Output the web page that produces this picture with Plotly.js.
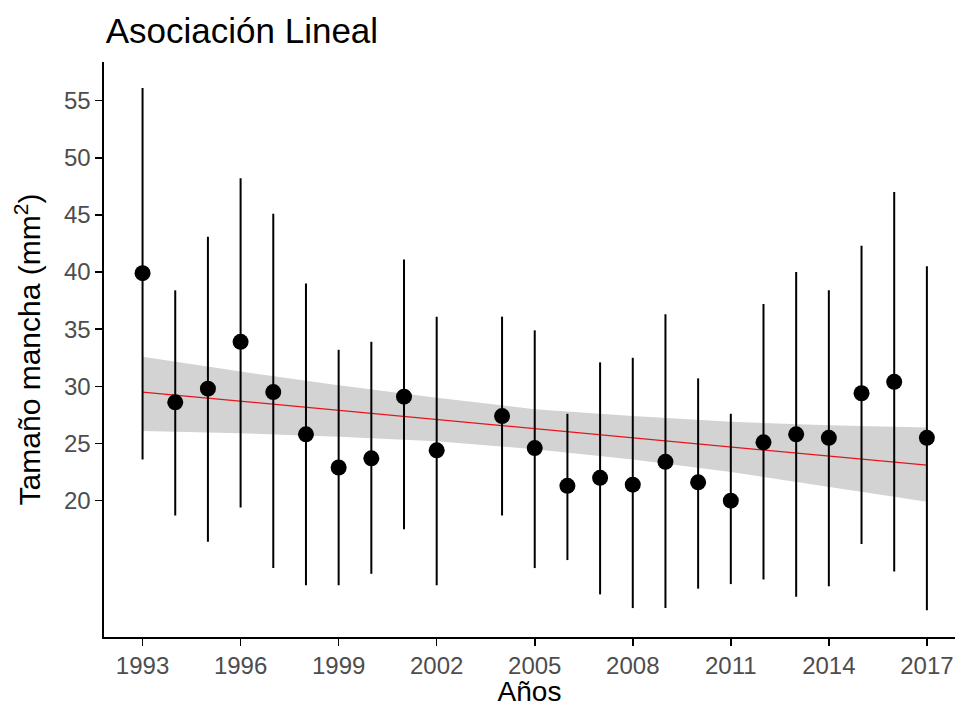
<!DOCTYPE html>
<html>
<head>
<meta charset="utf-8">
<script src="https://cdn.plot.ly/plotly-3.0.1.min.js"></script>
<style>html,body{margin:0;padding:0;background:#fff;}#chart{width:955px;height:707px;}</style>
</head>
<body>
<div id="chart"></div>
<script>
// Observed yearly values (mean with error-bar ends)
const years = [1993,1994,1995,1996,1997,1998,1999,2000,2001,2002,2004,2005,2006,2007,2008,2009,2010,2011,2012,2013,2014,2015,2016,2017];
const means = [39.9,28.6,29.8,33.9,29.5,25.8,22.9,23.7,29.1,24.4,27.4,24.6,21.3,22.0,21.4,23.4,21.6,20.0,25.1,25.8,25.5,29.4,30.4,25.5];
const upperEnds = [56.1,38.4,43.1,48.2,45.1,39.0,33.2,33.9,41.1,36.1,36.1,34.9,27.6,32.1,32.5,36.3,30.7,27.6,37.2,40.0,38.4,42.3,47.0,40.5];
const lowerEnds = [23.6,18.7,16.4,19.4,14.1,12.6,12.6,13.6,17.5,12.6,18.7,14.1,14.8,11.8,10.6,10.6,12.3,12.7,13.1,11.6,12.5,16.2,13.8,10.4];

// Linear fit and its confidence band
const fitYears = [1993,1996,1999,2002,2005,2008,2011,2014,2017];
const fitMid = [29.5,28.7,27.9,27.1,26.3,25.5,24.7,23.9,23.1];
const fitUpper = [32.6,31.3,30.1,29.0,28.0,27.4,26.9,26.6,26.4];
const fitLower = [26.1,25.9,25.6,25.2,24.5,23.6,22.5,21.2,19.9];

// Tick labels
const xTicks = [1993,1996,1999,2002,2005,2008,2011,2014,2017];
const yTicks = [20,25,30,35,40,45,50,55];

const errPlus = means.map((m,i) => upperEnds[i] - m);
const errMinus = means.map((m,i) => m - lowerEnds[i]);

const traces = [
  {x: fitYears, y: fitLower, type: 'scatter', mode: 'lines', line: {width: 0, color: 'rgba(0,0,0,0)'}, hoverinfo: 'skip', showlegend: false},
  {x: fitYears, y: fitUpper, type: 'scatter', mode: 'lines', fill: 'tonexty', fillcolor: '#D3D3D3', line: {width: 0, color: 'rgba(0,0,0,0)'}, hoverinfo: 'skip', showlegend: false},
  {x: fitYears, y: fitMid, type: 'scatter', mode: 'lines', line: {width: 1.2, color: '#E8141B'}, showlegend: false},
  {x: years, y: means, type: 'scatter', mode: 'markers',
   marker: {size: 16, color: '#000000'},
   error_y: {type: 'data', symmetric: false, array: errPlus, arrayminus: errMinus, color: '#000000', thickness: 2, width: 0},
   showlegend: false}
];

const layout = {
  width: 955, height: 707,
  paper_bgcolor: '#ffffff', plot_bgcolor: '#ffffff',
  margin: {l: 104, r: 0, t: 62, b: 70, pad: 0},
  font: {family: '"Liberation Sans", Arial, sans-serif', color: '#000000'},
  title: {text: 'Asociación Lineal', font: {size: 35, color: '#000000'}, x: 0.002, xref: 'paper', xanchor: 'left', y: 0.956, yref: 'container', yanchor: 'middle'},
  xaxis: {
    range: [1991.82, 2017.86], tickvals: xTicks, ticktext: xTicks.map(String),
    showgrid: false, zeroline: false, showline: true, linecolor: '#000000', linewidth: 1.6,
    ticks: 'outside', ticklen: 7, tickwidth: 1.6, tickcolor: '#000000',
    tickfont: {size: 24, color: '#4D4D4D'},
    title: {text: 'Años', font: {size: 28, color: '#000000'}, standoff: 12}
  },
  yaxis: {
    range: [8.07, 58.38], tickvals: yTicks, ticktext: yTicks.map(String),
    showgrid: false, zeroline: false, showline: true, linecolor: '#000000', linewidth: 1.6,
    ticks: 'outside', ticklen: 7, tickwidth: 1.6, tickcolor: '#000000',
    tickfont: {size: 24, color: '#4D4D4D'},
    title: {text: 'Tamaño mancha (mm<sup>2</sup>)', font: {size: 30, color: '#000000'}, standoff: 14}
  },
  showlegend: false
};

Plotly.newPlot('chart', traces, layout, {displayModeBar: false, staticPlot: true});
</script>
</body>
</html>
